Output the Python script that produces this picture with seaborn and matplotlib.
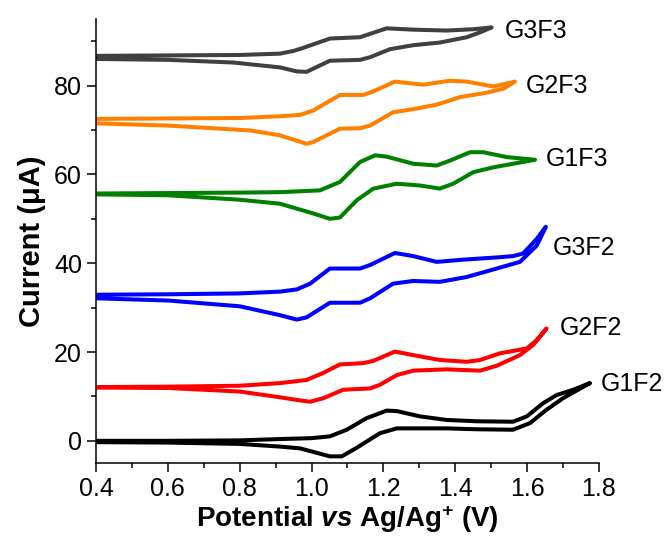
import numpy as np
import pandas as pd
import matplotlib
matplotlib.use("Agg")
import matplotlib.pyplot as plt
import seaborn as sns

# cyclic voltammograms: forward scan then back to 0.4 V
g1f2_v = [0.40, 0.60, 0.80, 0.912, 1.00, 1.051, 1.098, 1.153, 1.209, 1.237, 1.302, 1.376, 1.46, 1.561,
          1.599, 1.645, 1.682, 1.728, 1.775,
          1.70, 1.654, 1.608, 1.561, 1.46, 1.376, 1.237, 1.19, 1.125, 1.084, 1.051, 0.968, 0.912,
          0.80, 0.60, 0.40]
g1f2_i = [0.0, 0.0, 0.1, 0.4, 0.6, 1.0, 2.5, 5.1, 6.8, 6.7, 5.5, 4.7, 4.4, 4.3,
          5.5, 8.5, 10.3, 11.5, 13.0,
          9.6, 7.0, 4.0, 2.5, 2.6, 2.8, 2.8, 1.7, -1.6, -3.5, -3.5, -1.7, -1.3,
          -0.7, -0.4, -0.3]

g2f2_v = [0.40, 0.60, 0.80, 0.912, 0.986, 1.03, 1.079, 1.144, 1.172, 1.232, 1.283, 1.357, 1.432, 1.469,
          1.524, 1.599, 1.627, 1.654,
          1.617, 1.58, 1.515, 1.469, 1.376, 1.283, 1.237, 1.19, 1.163, 1.088, 1.033, 0.996, 0.968,
          0.912, 0.80, 0.60, 0.40]
g2f2_i = [12.1, 12.2, 12.4, 13.0, 13.7, 15.2, 17.2, 17.5, 18.0, 20.1, 19.3, 18.2, 17.8, 18.2,
          19.7, 20.8, 22.7, 25.3,
          21.6, 19.3, 16.9, 15.8, 16.1, 15.8, 14.8, 12.6, 11.8, 11.5, 9.6, 8.8, 9.1,
          9.8, 11.1, 11.9, 12.0]

g3f2_v = [0.40, 0.60, 0.80, 0.912, 0.959, 0.996, 1.051, 1.135, 1.163, 1.232, 1.283, 1.348, 1.422, 1.515,
          1.561, 1.589, 1.627, 1.652,
          1.627, 1.58, 1.515, 1.432, 1.357, 1.283, 1.227, 1.163, 1.135, 1.051, 0.986, 0.959, 0.912,
          0.80, 0.60, 0.40]
g3f2_i = [32.9, 33.0, 33.2, 33.6, 34.1, 35.4, 38.8, 38.8, 39.6, 42.3, 41.6, 40.3, 40.8, 41.3,
          41.6, 42.2, 45.5, 48.2,
          44.0, 40.3, 38.8, 36.9, 35.8, 36.0, 35.4, 32.1, 31.1, 31.1, 27.8, 27.3, 28.3,
          30.3, 31.6, 32.1]

g1f3_v = [0.40, 0.60, 0.80, 0.912, 1.023, 1.079, 1.135, 1.177, 1.209, 1.283, 1.348, 1.385, 1.441, 1.478,
          1.543, 1.622,
          1.561, 1.506, 1.45, 1.394, 1.357, 1.302, 1.237, 1.172, 1.126, 1.079, 1.051, 1.005, 0.912,
          0.80, 0.60, 0.40]
g1f3_i = [55.7, 55.8, 55.9, 56.0, 56.4, 58.3, 62.8, 64.3, 64.0, 62.4, 62.0, 63.1, 65.0, 65.0,
          63.9, 63.3,
          62.4, 61.6, 60.5, 57.9, 56.8, 57.5, 57.9, 56.8, 54.2, 50.3, 50.0, 51.2, 53.4,
          54.3, 55.3, 55.5]

g2f3_v = [0.40, 0.60, 0.80, 0.912, 0.968, 1.005, 1.079, 1.144, 1.172, 1.232, 1.311, 1.385, 1.432, 1.506,
          1.566,
          1.534, 1.487, 1.413, 1.348, 1.283, 1.227, 1.163, 1.135, 1.079, 1.005, 0.986, 0.912, 0.829,
          0.60, 0.40]
g2f3_i = [72.5, 72.6, 72.7, 73.1, 73.4, 74.4, 77.9, 77.9, 78.7, 80.9, 80.2, 81.1, 80.9, 79.8,
          80.9,
          79.3, 78.4, 77.4, 75.7, 74.7, 74.0, 71.0, 70.4, 70.3, 67.3, 66.9, 68.8, 69.9,
          71.0, 71.5]

g3f3_v = [0.40, 0.60, 0.80, 0.912, 0.949, 0.977, 1.051, 1.135, 1.209, 1.283, 1.376, 1.45, 1.501,
          1.469, 1.432, 1.357, 1.283, 1.218, 1.163, 1.135, 1.051, 0.986, 0.959, 0.912, 0.782,
          0.60, 0.40]
g3f3_i = [86.7, 86.8, 86.9, 87.2, 87.8, 88.5, 90.6, 90.9, 92.9, 92.6, 92.4, 92.7, 93.1,
          92.0, 90.9, 89.7, 89.1, 88.2, 86.4, 85.8, 85.6, 83.1, 83.2, 84.1, 85.2,
          85.8, 86.0]

samples = ["G1F2", "G2F2", "G3F2", "G1F3", "G2F3", "G3F3"]
colors = ["#000000", "#ff0000", "#0000ff", "#008000", "#ff8000", "#404040"]
label_pos = [(1.805, 12.9), (1.69, 25.4), (1.67, 43.4), (1.653, 63.4), (1.597, 80.0), (1.538, 92.4)]

curves = [(g1f2_v, g1f2_i), (g2f2_v, g2f2_i), (g3f2_v, g3f2_i),
          (g1f3_v, g1f3_i), (g2f3_v, g2f3_i), (g3f3_v, g3f3_i)]
frames = []
for name, (v, i) in zip(samples, curves):
    frames.append(pd.DataFrame({"potential": v, "current": i, "sample": name}))
df = pd.concat(frames, ignore_index=True)

sns.set_style("ticks")
plt.rcParams["font.family"] = ["Liberation Sans", "DejaVu Sans"]
plt.rcParams["mathtext.fontset"] = "custom"
plt.rcParams["mathtext.rm"] = "Liberation Sans:bold"
plt.rcParams["mathtext.it"] = "Liberation Sans:italic:bold"
plt.rcParams["mathtext.bf"] = "Liberation Sans:bold"
plt.rcParams["text.color"] = "black"
plt.rcParams["axes.labelcolor"] = "black"

fig = plt.figure(figsize=(6.68, 5.43), dpi=100)
ax = fig.add_axes([0.1437, 0.1473, 0.753, 0.8177])

sns.lineplot(data=df, x="potential", y="current", hue="sample", palette=dict(zip(samples, colors)),
             sort=False, estimator=None, linewidth=2.9, legend=False, ax=ax)
for line in ax.lines:
    line.set_solid_joinstyle("round")
    line.set_solid_capstyle("round")

for name, (tx, ty) in zip(samples, label_pos):
    ax.text(tx, ty, name, fontsize=18, ha="left", va="center", clip_on=False, color="black")

ax.set_xticks(np.arange(0.4, 1.81, 0.2))
ax.set_xticks(np.arange(0.5, 1.8, 0.2), minor=True)
ax.set_yticks([0, 20, 40, 60, 80])
ax.set_yticks([10, 30, 50, 70, 90], minor=True)
ax.set_xticklabels(["%.1f" % t for t in np.arange(0.4, 1.81, 0.2)])
ax.set_xlim(0.4, 1.8)
ax.set_ylim(-5, 95)
ax.tick_params(which="major", direction="out", length=6.5, width=1.1, labelsize=18, pad=3.5,
               color="black", labelcolor="black")
ax.tick_params(which="minor", direction="out", length=3.5, width=1.1, color="black")
for s in ["left", "bottom"]:
    ax.spines[s].set_linewidth(1.1)
    ax.spines[s].set_color("black")
sns.despine(ax=ax)

ax.set_xlabel(r"Potential $\mathit{vs}$ Ag/Ag$^{+}$ (V)", fontsize=20, fontweight="bold", labelpad=2)
ax.set_ylabel("Current (\u03bcA)", fontsize=21, fontweight="bold", labelpad=6)

fig.savefig("out.png", dpi=100)
